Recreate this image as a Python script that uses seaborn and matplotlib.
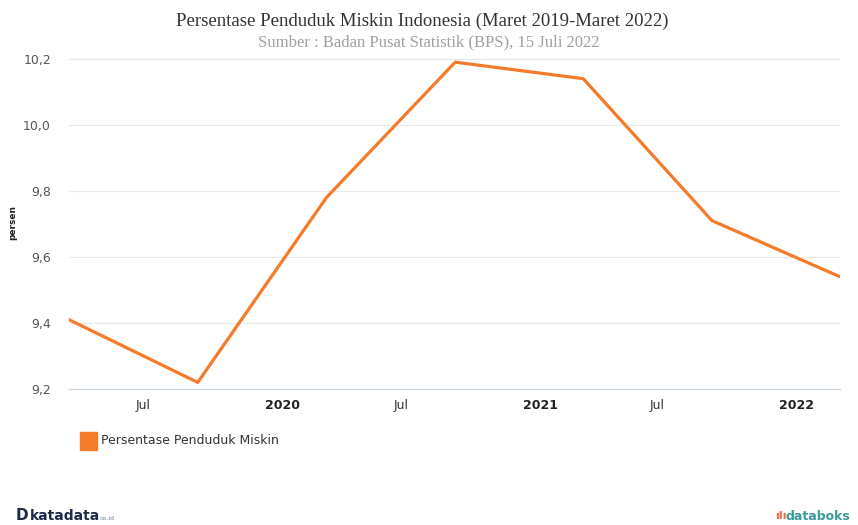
import matplotlib
matplotlib.use("Agg")
import matplotlib.pyplot as plt
import matplotlib.dates as mdates
import matplotlib.transforms as mtrans
import seaborn as sns
import pandas as pd

# Data
periods = ["2019-03-31", "2019-09-30", "2020-03-31", "2020-09-30",
           "2021-03-31", "2021-09-30", "2022-03-31"]
values = [9.41, 9.22, 9.78, 10.19, 10.14, 9.71, 9.54]
series_name = "Persentase Penduduk Miskin"
tick_dates = ["2019-07-01", "2020-01-01", "2020-07-01", "2021-01-01", "2021-07-01", "2022-01-01"]
tick_labels = ["Jul", "2020", "Jul", "2021", "Jul", "2022"]
y_ticks = [9.2, 9.4, 9.6, 9.8, 10.0, 10.2]

df = pd.DataFrame({"date": pd.to_datetime(periods), "value": values})

sns.set_theme(style="white")
plt.rcParams["font.family"] = ["DejaVu Sans"]

W, H = 858, 525
fig = plt.figure(figsize=(W / 100, H / 100), dpi=100)
fig.patch.set_facecolor("white")

left, right, top, bottom = 69, 840, 45, 389
ax = fig.add_axes([left / W, 1 - bottom / H, (right - left) / W, (bottom - top) / H])
ax.set_facecolor("white")

color = "#F47B2A"
sns.lineplot(data=df, x="date", y="value", ax=ax, color=color, linewidth=2.3, legend=False)

ax.set_xlim(df["date"].iloc[0], df["date"].iloc[-1])
ax.set_ylim(9.2, 10.242)

ax.set_yticks(y_ticks)
ax.set_yticklabels([f"{v:.1f}".replace(".", ",") for v in y_ticks], fontsize=9, color="#555555")
ax.tick_params(axis="y", length=0, pad=13)
ax.grid(axis="y", color="#e8e8e8", linewidth=0.9)
ax.set_axisbelow(True)

td = pd.to_datetime(tick_dates)
ax.set_xticks(mdates.date2num(td))
ax.set_xticklabels(tick_labels, fontsize=9, color="#333333", ha="left")
for lbl in ax.get_xticklabels():
    if lbl.get_text() != "Jul":
        lbl.set_fontweight("bold")
        lbl.set_color("#222222")
ax.tick_params(axis="x", length=5.8, width=0.8, color="#ccd6eb", pad=1.5, direction="out")
offset = mtrans.ScaledTranslation(2 / 100, 0, fig.dpi_scale_trans)
for lbl in ax.get_xticklabels():
    lbl.set_transform(lbl.get_transform() + offset)

for s in ["top", "right", "left"]:
    ax.spines[s].set_visible(False)
ax.spines["bottom"].set_color("#ccd6eb")
ax.spines["bottom"].set_linewidth(0.9)

ax.set_xlabel("")
ax.set_ylabel("persen", fontsize=6.5, fontweight="bold", color="#222222", labelpad=0)
ax.yaxis.set_label_coords((17 - left) / (right - left), (bottom - 222) / (bottom - top))

# Title
fig.text(422 / W, 1 - 21 / H, "Persentase Penduduk Miskin Indonesia (Maret 2019-Maret 2022)",
         ha="center", va="center", fontsize=13.5, color="#333333", family="Liberation Serif")
fig.text(429 / W, 1 - 42 / H, "Sumber : Badan Pusat Statistik (BPS), 15 Juli 2022",
         ha="center", va="center", fontsize=12, color="#a0a0a0", family="Liberation Serif")

# Legend
fig.patches.append(plt.Rectangle((80 / W, 1 - 450 / H), 17 / W, 18 / H,
                                 transform=fig.transFigure, color=color, figure=fig))
fig.text(101 / W, 1 - 441 / H, series_name, ha="left", va="center", fontsize=9, color="#333333")

# Logos as text
fig.text(22 / W, 1 - 516 / H, "D", ha="center", va="center", fontsize=11, fontweight="bold", color="#1c2b4a")
fig.text(30 / W, 1 - 516 / H, "katadata", ha="left", va="center", fontsize=10, fontweight="bold", color="#1c2b4a")
fig.text(100 / W, 1 - 518 / H, "co.id", ha="left", va="center", fontsize=4.5, color="#6b7a90")
fig.text(775 / W, 1 - 516 / H, "ıIı", ha="left", va="center", fontsize=8, fontweight="bold", color="#ee6a3a")
fig.text(786 / W, 1 - 516 / H, "databoks", ha="left", va="center", fontsize=9, fontweight="bold", color="#3a9a9a")

fig.savefig("out.png", dpi=100)
